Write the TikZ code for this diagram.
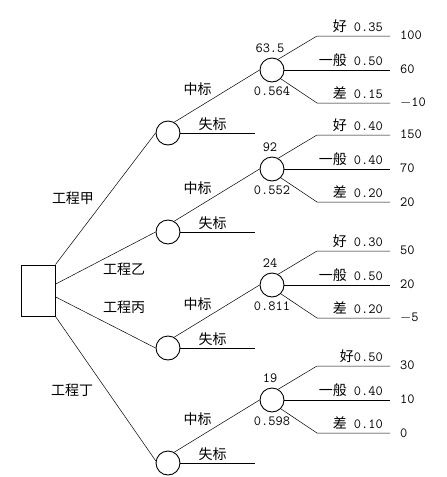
\documentclass[tikz,border=0pt]{standalone}
\usepackage{fontspec}
\newfontfamily\cjk{Noto Sans CJK SC}
\usetikzlibrary{positioning}
\newcommand{\zh}[1]{{\cjk #1}}

\begin{document}
\begin{tikzpicture}[
    x=1pt, y=-1pt,
    decision/.style={rectangle, draw, line width=1pt, minimum width=34pt, minimum height=51pt, inner sep=0pt},
    chance/.style={circle, draw, line width=0.9pt, minimum size=24pt, inner sep=0pt},
    branch/.style={draw, line width=0.5pt},
    zhlabel/.style={font=\cjk\fontsize{14}{16}\selectfont, inner sep=0pt},
    num/.style={font=\ttfamily\fontsize{14}{16}\selectfont, inner sep=0pt}
]
\useasboundingbox (0,0) rectangle (447,477);

% --- Decision node ---
\node[decision] (dec) at (38,290.5) {};

% --- Project labels ---
\node[zhlabel] (pja) at (73,198) {工程甲};
\node[zhlabel] (pjb) at (124,269.5) {工程乙};
\node[zhlabel] (pjc) at (124,307.5) {工程丙};
\node[zhlabel] (pjd) at (72,390) {工程丁};

% --- First-level chance nodes (bid / no bid) ---
\foreach \g/\y in {a/133, b/232, c/348, d/463}
{
    \node[chance] (m\g) at (168,\y) {};
    \coordinate (lose\g) at (255,\y);
    \node[zhlabel] (winlbl\g) at (197.5,{\y-44}) {中标};
    \node[zhlabel] (loselbl\g) at (212.5,{\y-9}) {失标};
}

% --- Second-level chance nodes ---
\foreach \g/\y/\ev/\pr in {a/70/63.5/0.564, b/169/92/0.552, c/285/24/0.811, d/400/19/0.598}
{
    \node[chance] (s\g) at (272,\y) {};
    \node[num, above=4.5pt of s\g, xshift=-2pt] (ev\g) {\ev};
    \node[num, below=4.5pt of s\g] (pr\g) {\pr};
    \coordinate (up\g) at (317,{\y-34});
    \coordinate (upend\g) at (390,{\y-34});
    \coordinate (midend\g) at (390,\y);
    \coordinate (low\g) at (317,{\y+33});
    \coordinate (lowend\g) at (390,{\y+33});
}

% --- Outcome labels and payoffs ---
\foreach \g/\y/\pa/\pb/\pc/\va/\vb/\vc in {
    a/70/{\zh{好} 0.35}/{\zh{一般} 0.50}/{\zh{差} 0.15}/100/60/{$-$10},
    b/169/{\zh{好} 0.40}/{\zh{一般} 0.40}/{\zh{差} 0.20}/150/70/20,
    c/285/{\zh{好} 0.30}/{\zh{一般} 0.50}/{\zh{差} 0.20}/50/20/{$-$5},
    d/400/{\zh{好}0.50}/{\zh{一般} 0.40}/{\zh{差} 0.10}/30/10/0}
{
    \node[num, anchor=base east] (pa\g) at (383,{\y-38.5}) {\pa};
    \node[num, anchor=base east] (pb\g) at (383,{\y-4.5}) {\pb};
    \node[num, anchor=base east] (pc\g) at (383,{\y+28.5}) {\pc};
    \node[num, anchor=west] (va\g) at (400,{\y-35}) {\va};
    \node[num, anchor=west] (vb\g) at (400,{\y-1}) {\vb};
    \node[num, anchor=west] (vc\g) at (400,{\y+33}) {\vc};
}

% --- Decision branches ---
\draw[branch] (dec.north east) -- (ma.west);
\draw[branch] (dec.20) -- (mb.west);
\draw[branch] (dec.-20) -- (mc.west);
\draw[branch] (dec.south east) -- (md.170);

% --- Bid branches ---
\foreach \g in {a,b,c,d}
{
    \draw[branch] (m\g.60) -- (s\g.west);
    \draw[branch] (m\g.east) -- (lose\g);
}

% --- Outcome branches ---
\foreach \g in {a,b,c,d}
{
    \draw[branch] (s\g.60) -- (up\g) -- (upend\g);
    \draw[branch] (s\g.east) -- (midend\g);
    \draw[branch] (s\g.-45) -- (low\g) -- (lowend\g);
}

\end{tikzpicture}
\end{document}
